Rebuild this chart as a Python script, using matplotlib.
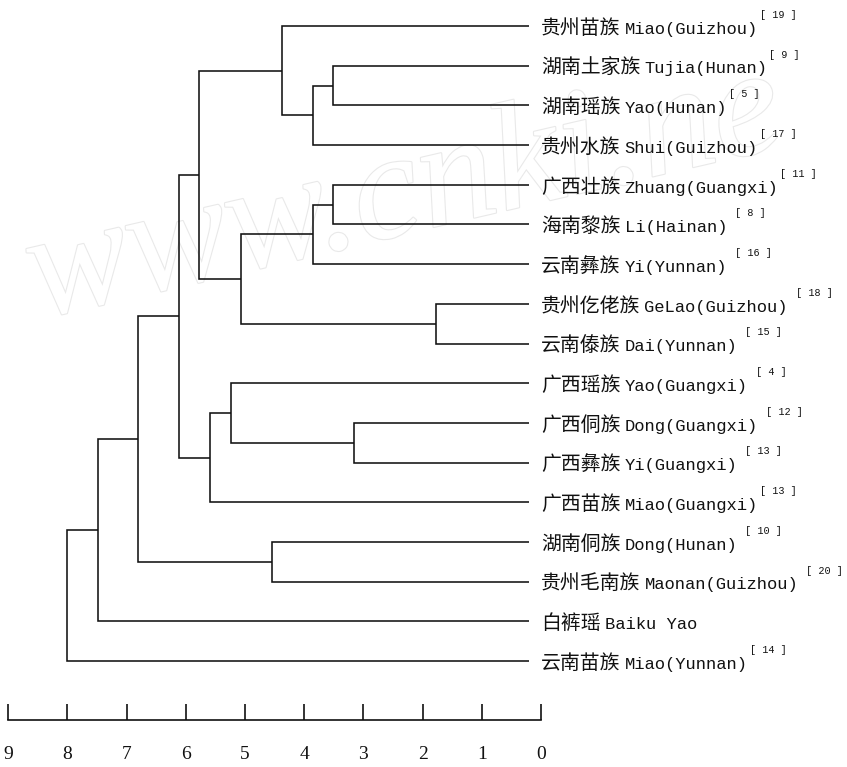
import matplotlib
matplotlib.use("Agg")
import matplotlib.pyplot as plt
import matplotlib.patheffects as pe

# ---------------- data ----------------
cn_names = ["贵州苗族", "湖南土家族", "湖南瑶族", "贵州水族", "广西壮族", "海南黎族",
            "云南彝族", "贵州仡佬族", "云南傣族", "广西瑶族", "广西侗族", "广西彝族",
            "广西苗族", "湖南侗族", "贵州毛南族", "白裤瑶", "云南苗族"]
en_names = ["Miao(Guizhou)", "Tujia(Hunan)", "Yao(Hunan)", "Shui(Guizhou)",
            "Zhuang(Guangxi)", "Li(Hainan)", "Yi(Yunnan)", "GeLao(Guizhou)",
            "Dai(Yunnan)", "Yao(Guangxi)", "Dong(Guangxi)", "Yi(Guangxi)",
            "Miao(Guangxi)", "Dong(Hunan)", "Maonan(Guizhou)", "Baiku Yao",
            "Miao(Yunnan)"]
refs = ["[ 19 ]", "[ 9 ]", "[ 5 ]", "[ 17 ]", "[ 11 ]", " [ 8 ]", " [ 16 ]",
        " [ 18 ]", " [ 15 ]", " [ 4 ]", " [ 12 ]", " [ 13 ]", "[ 13 ]",
        " [ 10 ]", " [ 20 ]", "", "[ 14 ]"]

# linkage: node ids 0..16 are leaves, merges create nodes 17, 18, ...
merge_left  = [1, 4, 7, 10, 17, 18, 0, 22, 9, 25, 13, 23, 28, 29, 30, 31]
merge_right = [2, 5, 8, 11, 3, 6, 21, 19, 20, 12, 14, 24, 26, 27, 15, 16]
merge_dist  = [3.52, 3.52, 1.78, 3.16, 3.85, 3.85, 4.38, 5.07, 5.24, 5.59,
               4.54, 5.78, 6.12, 6.80, 7.48, 8.00]

scale_ticks = [9, 8, 7, 6, 5, 4, 3, 2, 1, 0]
watermark = "www.cnki.ne"

# ---------------- figure ----------------
W, H = 847, 767
fig = plt.figure(figsize=(W / 100, H / 100), dpi=100)
fig.patch.set_facecolor("white")

ax = fig.add_axes([0, 0, 1, 1])
ax.set_xlim(9.139, -5.169)
ax.set_ylim(18.67, -0.655)
ax.axis("off")

# faint outlined watermark, behind everything
wm = ax.text(0.045, 0.585, watermark, transform=fig.transFigure, fontsize=110,
             family="Liberation Serif", style="italic", color="white",
             rotation=13, rotation_mode="anchor", ha="left", va="baseline",
             zorder=1)
wm.set_path_effects([pe.Stroke(linewidth=1.6, foreground="#e9e9e9"), pe.Normal()])

leaf_end = 0.2
n = len(cn_names)
pos = {i: float(i) for i in range(n)}
height = {i: leaf_end for i in range(n)}

lc = "#111111"
lw = 1.15
for k, (a, b, d) in enumerate(zip(merge_left, merge_right, merge_dist)):
    node = n + k
    ya, yb = pos[a], pos[b]
    ax.plot([height[a], d, d, height[b]], [ya, ya, yb, yb], color=lc, lw=lw,
            solid_joinstyle="miter", solid_capstyle="butt", zorder=3)
    pos[node] = (ya + yb) / 2
    height[node] = d

# labels
for i in range(n):
    cn = ax.annotate(cn_names[i], xy=(leaf_end, i), xycoords="data",
                     xytext=(8.4, -5.6), textcoords="offset points",
                     ha="left", va="baseline", fontsize=14.3,
                     family=["Noto Sans CJK SC", "DejaVu Sans"], color="#111111",
                     zorder=4)
    en = ax.annotate(en_names[i], xy=(1, i), xycoords=(cn, "data"),
                     xytext=(3.0, -5.6), textcoords="offset points",
                     ha="left", va="baseline", fontsize=12.3,
                     family=["Liberation Mono", "DejaVu Sans Mono"], color="#111111",
                     zorder=4)
    if refs[i]:
        ax.annotate(refs[i], xy=(1, i), xycoords=(en, "data"),
                    xytext=(1.5, 8.0), textcoords="offset points",
                    ha="left", va="center", fontsize=7.3,
                    family=["Liberation Mono", "DejaVu Sans Mono"], color="#111111",
                    zorder=4)

# distance scale
ax2 = fig.add_axes([0, 1 - 720 / H, 1, 0.01])
ax2.set_xlim(ax.get_xlim())
ax2.patch.set_alpha(0)
for s in ["top", "left", "right"]:
    ax2.spines[s].set_visible(False)
ax2.spines["bottom"].set_bounds(0, 9)
ax2.spines["bottom"].set_linewidth(1.2)
ax2.spines["bottom"].set_color(lc)
ax2.set_yticks([])
ax2.set_xticks(scale_ticks)
ax2.set_xticklabels([str(t) for t in scale_ticks], family="Liberation Serif", fontsize=14)
ax2.tick_params(axis="x", direction="in", length=11.5, width=1.2, color=lc,
                pad=19, labelcolor="#111111")

fig.savefig("out.png", dpi=100, facecolor="white")
